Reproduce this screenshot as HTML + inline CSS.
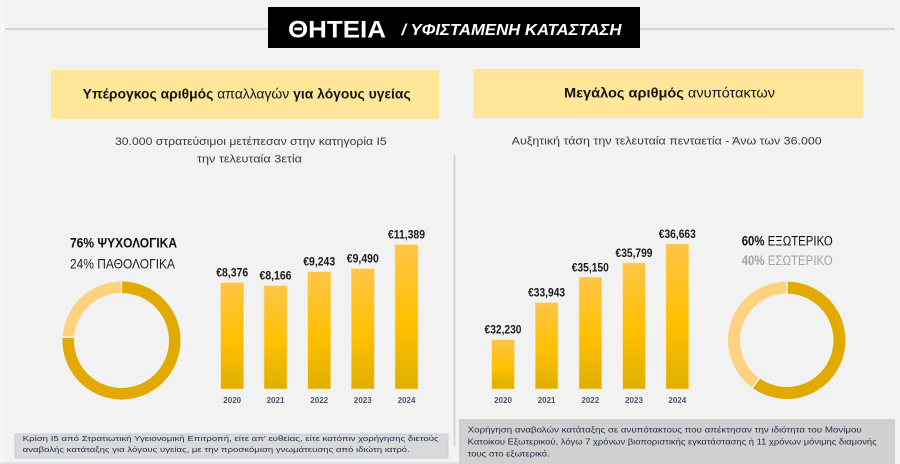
<!DOCTYPE html>
<html><head><meta charset="utf-8"><style>
html,body{margin:0;padding:0;background:#f2f2f2;}
svg{display:block;}
text{font-family:"Liberation Sans","DejaVu Sans",sans-serif;}
</style></head><body>
<svg width="900" height="464" viewBox="0 0 900 464" xmlns="http://www.w3.org/2000/svg">
<defs>
<linearGradient id="bg" x1="0" y1="0" x2="0" y2="1">
<stop offset="0" stop-color="#ffc547"/>
<stop offset="0.55" stop-color="#ffc000"/>
<stop offset="1" stop-color="#deaf00"/>
</linearGradient>
</defs>
<rect x="0" y="0" width="900" height="464" fill="#f2f2f2"/>
<rect x="0" y="0" width="4" height="464" fill="#f7f7f7"/>
<line x1="5" y1="29" x2="895" y2="29" stroke="#c9c9c9" stroke-width="1.5"/>
<rect x="268" y="7" width="372" height="41" fill="#000"/>
<text x="288" y="37.5" font-size="24" font-weight="bold" fill="#fff" textLength="98" lengthAdjust="spacingAndGlyphs">ΘΗΤΕΙΑ</text>
<text x="401.5" y="35" font-size="16" font-weight="bold" font-style="italic" fill="#fff" textLength="220" lengthAdjust="spacingAndGlyphs">/ ΥΦΙΣΤΑΜΕΝΗ ΚΑΤΑΣΤΑΣΗ</text>

<!-- yellow headers -->
<rect x="51" y="70" width="388" height="49" fill="#ffe699"/>
<text x="82.7" y="98.5" font-size="13.5" fill="#151515" textLength="328" lengthAdjust="spacingAndGlyphs"><tspan font-weight="bold">Υπέρογκος αριθμός</tspan> απαλλαγών <tspan font-weight="bold">για λόγους υγείας</tspan></text>
<rect x="473" y="69" width="390" height="49" fill="#ffe699"/>
<text x="564" y="97.5" font-size="14" fill="#151515" textLength="211" lengthAdjust="spacingAndGlyphs"><tspan font-weight="bold">Μεγάλος αριθμός</tspan> ανυπότακτων</text>

<!-- subtitles -->
<text x="115" y="145" font-size="11" fill="#3a3a3a" textLength="271.7" lengthAdjust="spacingAndGlyphs">30.000 στρατεύσιμοι μετέπεσαν στην κατηγορία Ι5</text>
<text x="197" y="162.7" font-size="11" fill="#3a3a3a" textLength="105" lengthAdjust="spacingAndGlyphs">την τελευταία 3ετία</text>
<text x="511.7" y="144.3" font-size="11" fill="#3a3a3a" textLength="310" lengthAdjust="spacingAndGlyphs">Αυξητική τάση την τελευταία πενταετία - Άνω των 36.000</text>

<!-- separator -->
<line x1="454.5" y1="155" x2="454.5" y2="446" stroke="#cccccc" stroke-width="1.5"/>

<!-- left donut -->
<text x="70" y="247.3" font-size="14" font-weight="bold" fill="#111" textLength="107" lengthAdjust="spacingAndGlyphs">76% ΨΥΧΟΛΟΓΙΚΑ</text>
<text x="70" y="268.3" font-size="14" fill="#222" textLength="105" lengthAdjust="spacingAndGlyphs">24% ΠΑΘΟΛΟΓΙΚΑ</text>
<path d="M121.5 287.25 A53.25 53.25 0 1 1 68.35 337.16" fill="none" stroke="#e2aa00" stroke-width="11.5"/>
<path d="M68.35 337.16 A53.25 53.25 0 0 1 121.5 287.25" fill="none" stroke="#ffd27f" stroke-width="11.5"/>
<line x1="121.5" y1="281.3" x2="121.5" y2="293.2" stroke="#fff" stroke-width="1.3"/>
<line x1="62.6" y1="336.8" x2="74.1" y2="337.5" stroke="#fff" stroke-width="1.3"/>

<!-- left bars -->
<g fill="url(#bg)" stroke="#ffdf8a" stroke-width="0.6">
<rect x="220.7" y="282.7" width="23" height="106.3"/>
<rect x="264" y="285.7" width="23" height="103.3"/>
<rect x="307.7" y="271.7" width="23" height="117.3"/>
<rect x="351.3" y="268.7" width="23" height="120.3"/>
<rect x="395" y="244.7" width="23" height="144.3"/>
</g>
<g font-size="11.5" font-weight="bold" fill="#1a1a1a" text-anchor="middle">
<text x="232.2" y="276.7" textLength="32" lengthAdjust="spacingAndGlyphs">€8,376</text>
<text x="275.5" y="279.7" textLength="32" lengthAdjust="spacingAndGlyphs">€8,166</text>
<text x="319.2" y="265.7" textLength="32" lengthAdjust="spacingAndGlyphs">€9,243</text>
<text x="362.8" y="262.7" textLength="32" lengthAdjust="spacingAndGlyphs">€9,490</text>
<text x="406.5" y="238.7" textLength="37" lengthAdjust="spacingAndGlyphs">€11,389</text>
</g>
<g font-size="8" font-weight="bold" fill="#4a5668" text-anchor="middle">
<text x="232.2" y="403">2020</text>
<text x="275.5" y="403">2021</text>
<text x="319.2" y="403">2022</text>
<text x="362.8" y="403">2023</text>
<text x="406.5" y="403">2024</text>
</g>

<!-- right bars -->
<g fill="url(#bg)" stroke="#ffdf8a" stroke-width="0.6">
<rect x="491.7" y="339.7" width="22.7" height="49.3"/>
<rect x="535.3" y="302.7" width="22.7" height="86.3"/>
<rect x="579" y="277.3" width="22.7" height="111.7"/>
<rect x="622.7" y="263" width="22.7" height="126"/>
<rect x="666" y="244" width="22.7" height="145"/>
</g>
<g font-size="11.5" font-weight="bold" fill="#1a1a1a" text-anchor="middle">
<text x="503" y="333.7" textLength="37" lengthAdjust="spacingAndGlyphs">€32,230</text>
<text x="546.6" y="296.7" textLength="37" lengthAdjust="spacingAndGlyphs">€33,943</text>
<text x="590.3" y="271.3" textLength="37" lengthAdjust="spacingAndGlyphs">€35,150</text>
<text x="634" y="257" textLength="37" lengthAdjust="spacingAndGlyphs">€35,799</text>
<text x="677.3" y="238" textLength="37" lengthAdjust="spacingAndGlyphs">€36,663</text>
</g>
<g font-size="8" font-weight="bold" fill="#4a5668" text-anchor="middle">
<text x="503" y="403">2020</text>
<text x="546.6" y="403">2021</text>
<text x="590.3" y="403">2022</text>
<text x="634" y="403">2023</text>
<text x="677.3" y="403">2024</text>
</g>

<!-- right donut -->
<text x="741.7" y="245.7" font-size="13.5" fill="#111" textLength="91" lengthAdjust="spacingAndGlyphs"><tspan font-weight="bold">60%</tspan> ΕΞΩΤΕΡΙΚΟ</text>
<text x="741.7" y="265" font-size="13.5" fill="#a3a3a3" textLength="91" lengthAdjust="spacingAndGlyphs"><tspan font-weight="bold">40%</tspan> ΕΣΩΤΕΡΙΚΟ</text>
<path d="M787 287.6 A52.7 52.7 0 1 1 756 383.1" fill="none" stroke="#e2aa00" stroke-width="12"/>
<path d="M756 383.1 A52.7 52.7 0 0 1 787 287.6" fill="none" stroke="#ffd27f" stroke-width="12"/>
<line x1="787" y1="281.3" x2="787" y2="293.9" stroke="#fff" stroke-width="1.3"/>
<line x1="752.4" y1="388" x2="759.8" y2="377.9" stroke="#fff" stroke-width="1.3"/>

<!-- bottom boxes -->
<rect x="15" y="434" width="433" height="24" fill="#d9d9d9" stroke="#bfd0ea" stroke-width="1"/>
<g font-size="7.6" fill="#1f2a44">
<text x="22.7" y="441" textLength="416" lengthAdjust="spacingAndGlyphs">Κρίση Ι5 από Στρατιωτική Υγειονομική Επιτροπή, είτε απ' ευθείας, είτε κατόπιν χορήγησης διετούς</text>
<text x="22.7" y="452" textLength="387" lengthAdjust="spacingAndGlyphs">αναβολής κατάταξης για λόγους υγείας, με την προσκόμιση γνωμάτευσης από ιδιώτη ιατρό.</text>
</g>
<rect x="459" y="419" width="436" height="45" fill="#d0d0d0"/>
<g font-size="7.8" fill="#1f2a44">
<text x="467.7" y="432.5" textLength="394" lengthAdjust="spacingAndGlyphs">Χορήγηση αναβολών κατάταξης σε ανυπότακτους που απέκτησαν την ιδιότητα του Μονίμου</text>
<text x="467.7" y="444.5" textLength="409" lengthAdjust="spacingAndGlyphs">Κατοίκου Εξωτερικού, λόγω 7 χρόνων βιοποριστικής εγκατάστασης ή 11 χρόνων μόνιμης διαμονής</text>
<text x="467.7" y="456.3" textLength="82" lengthAdjust="spacingAndGlyphs">τους στο εξωτερικό.</text>
</g>
<line x1="0" y1="463" x2="459" y2="463" stroke="#cfcfcf" stroke-width="1"/>
</svg>
</body></html>
